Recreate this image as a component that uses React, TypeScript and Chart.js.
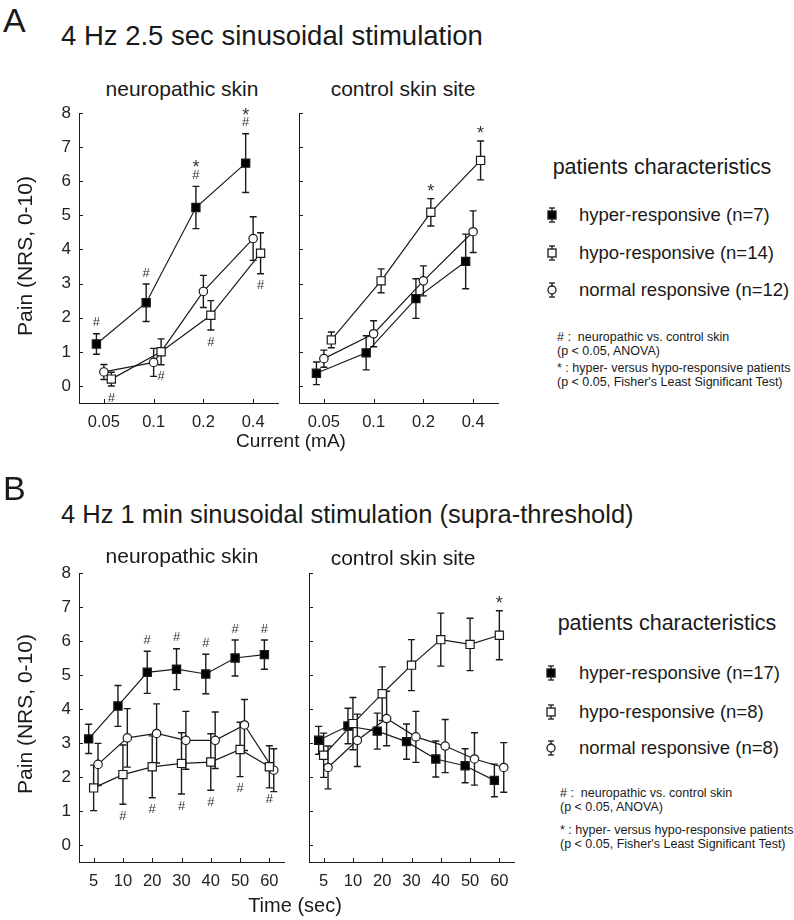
import React, { useEffect, useRef } from 'react';
import { Chart, registerables } from 'chart.js';
Chart.register(...registerables);

const FONT = 'Liberation Sans, Arial, Helvetica, sans-serif';
const INK = '#1a1a1a';

// ---------- categories / ticks ----------
const currentLabels = ['0.05', '0.1', '0.2', '0.4'];
const timeLabels = ['5', '10', '20', '30', '40', '50', '60'];
const yTicks = [0, 1, 2, 3, 4, 5, 6, 7, 8];

// ---------- A: 4 Hz 2.5 sec, neuropathic skin ----------
const aNeuroHyper = [1.23, 2.44, 5.23, 6.53];
const aNeuroHyperErr = [0.3, 0.55, 0.62, 0.86];
const aNeuroHypo = [0.2, 1.0, 2.07, 3.89];
const aNeuroHypoErr = [0.2, 0.38, 0.43, 0.6];
const aNeuroNormal = [0.41, 0.69, 2.77, 4.32];
const aNeuroNormalErr = [0.22, 0.41, 0.47, 0.64];
const aNeuroHyperSig = ['#', '#', '#*', '#*'];
const aNeuroHypoSig = ['#', '#', '#', '#'];

// ---------- A: control skin site ----------
const aCtrlHyper = [0.37, 0.97, 2.56, 3.65];
const aCtrlHyperErr = [0.33, 0.5, 0.58, 0.8];
const aCtrlHypo = [1.35, 3.08, 5.09, 6.61];
const aCtrlHypoErr = [0.23, 0.35, 0.4, 0.57];
const aCtrlNormal = [0.8, 1.53, 3.08, 4.52];
const aCtrlNormalErr = [0.25, 0.38, 0.44, 0.61];
const aCtrlHypoSig = ['', '', '*', '*'];

// ---------- B: 4 Hz 1 min, neuropathic skin ----------
const bNeuroHyper = [3.12, 4.09, 5.08, 5.17, 5.03, 5.5, 5.6];
const bNeuroHyperErr = [0.43, 0.6, 0.62, 0.6, 0.58, 0.53, 0.43];
const bNeuroHypo = [1.68, 2.07, 2.3, 2.4, 2.44, 2.81, 2.3];
const bNeuroHypoErr = [0.67, 0.87, 0.91, 0.9, 0.83, 0.8, 0.62];
const bNeuroNormal = [2.37, 3.15, 3.28, 3.08, 3.08, 3.53, 2.2];
const bNeuroNormalErr = [0.62, 0.86, 0.87, 0.85, 0.83, 0.75, 0.63];
const bNeuroHyperSig = ['', '', '#', '#', '#', '#', '#'];
const bNeuroHypoSig = ['', '#', '#', '#', '#', '#', '#'];

// ---------- B: control skin site ----------
const bCtrlHyper = [3.08, 3.5, 3.35, 3.04, 2.53, 2.33, 1.9];
const bCtrlHyperErr = [0.41, 0.52, 0.53, 0.52, 0.53, 0.5, 0.48];
const bCtrlHypo = [2.64, 3.57, 4.45, 5.29, 6.04, 5.9, 6.17];
const bCtrlHypoErr = [0.65, 0.77, 0.79, 0.75, 0.78, 0.77, 0.72];
const bCtrlNormal = [2.28, 3.08, 3.72, 3.18, 2.91, 2.53, 2.28];
const bCtrlNormalErr = [0.63, 0.77, 0.8, 0.75, 0.78, 0.77, 0.73];
const bCtrlHypoSig = ['', '', '', '', '', '', '*'];

// ---------- legend texts ----------
const legendATexts = ['hyper-responsive (n=7)', 'hypo-responsive (n=14)', 'normal responsive (n=12)'];
const legendBTexts = ['hyper-responsive (n=17)', 'hypo-responsive (n=8)', 'normal responsive (n=8)'];

type Series = { values: number[]; errors: number[]; kind: 'hyper' | 'hypo' | 'normal'; above?: string[]; below?: string[] };

const errorBarPlugin = {
  id: 'errorBars',
  beforeDatasetsDraw(chart: any) {
    const { ctx } = chart;
    const xs = chart.scales.x, ys = chart.scales.y;
    ctx.save();
    ctx.strokeStyle = INK;
    ctx.lineWidth = 1.4;
    chart.data.datasets.forEach((ds: any) => {
      ds.data.forEach((p: any, i: number) => {
        const e = ds.errors[i];
        const px = xs.getPixelForValue(p.x);
        const yt = ys.getPixelForValue(p.y + e);
        const yb = ys.getPixelForValue(p.y - e);
        ctx.beginPath();
        ctx.moveTo(px, yt);
        ctx.lineTo(px, yb);
        ctx.moveTo(px - 3.5, yt);
        ctx.lineTo(px + 3.5, yt);
        ctx.moveTo(px - 3.5, yb);
        ctx.lineTo(px + 3.5, yb);
        ctx.stroke();
      });
    });
    ctx.restore();
  },
  afterDatasetsDraw(chart: any) {
    const { ctx } = chart;
    const xs = chart.scales.x, ys = chart.scales.y;
    ctx.save();
    ctx.fillStyle = '#333';
    ctx.textAlign = 'center';
    ctx.textBaseline = 'middle';
    const drawSym = (c: string, px: number, py: number) => {
      if (c === '*') {
        ctx.font = `18px ${FONT}`;
        ctx.fillText('*', px, py + 4);
      } else {
        ctx.font = `13px ${FONT}`;
        ctx.fillText('#', px, py);
      }
    };
    chart.data.datasets.forEach((ds: any) => {
      ds.data.forEach((p: any, i: number) => {
        const e = ds.errors[i];
        const px = xs.getPixelForValue(p.x);
        const yt = ys.getPixelForValue(p.y + e);
        const yb = ys.getPixelForValue(p.y - e);
        const ab: string = ds.above ? ds.above[i] || '' : '';
        for (let k = 0; k < ab.length; k++) drawSym(ab[k], px, yt - 11 - k * 11);
        const be: string = ds.below ? ds.below[i] || '' : '';
        for (let k = 0; k < be.length; k++) drawSym(be[k], px, yb + 12 + k * 11);
      });
    });
    ctx.restore();
  },
  afterDraw(chart: any) {
    const { ctx, chartArea } = chart;
    const xs = chart.scales.x, ys = chart.scales.y;
    ctx.save();
    ctx.strokeStyle = INK;
    ctx.lineWidth = 1;
    ctx.beginPath();
    yTicks.forEach((v) => {
      const py = Math.round(ys.getPixelForValue(v)) + 0.5;
      ctx.moveTo(chartArea.left, py);
      ctx.lineTo(chartArea.left + 4, py);
    });
    xs.ticks.forEach((t: any) => {
      const px = Math.round(xs.getPixelForValue(t.value)) + 0.5;
      ctx.moveTo(px, chartArea.bottom);
      ctx.lineTo(px, chartArea.bottom - 4);
    });
    ctx.stroke();
    ctx.restore();
  },
};

type PanelProps = {
  left: number; top: number; width: number; height: number;
  area: { left: number; right: number; top: number; bottom: number };
  labels: string[];
  series: Series[];
  offsets: { hyper: number; hypo: number; normal: number };
  showYLabels: boolean;
};

function Panel(props: PanelProps) {
  const ref = useRef<HTMLCanvasElement>(null);
  useEffect(() => {
    const { left, top, width, height, area, labels, series, offsets, showYLabels } = props;
    const padTop = area.top - top;
    const padRight = left + width - area.right;
    const yW = area.left - left;
    const xH = top + height - area.bottom;
    const order = { hypo: 0, normal: 1, hyper: 2 } as any;
    const datasets = series.map((s) => ({
      data: s.values.map((v, i) => ({ x: i + (offsets as any)[s.kind], y: v })),
      errors: s.errors,
      above: s.above,
      below: s.below,
      order: order[s.kind],
      borderColor: INK,
      borderWidth: 1.2,
      tension: 0,
      fill: false,
      pointStyle: s.kind === 'normal' ? 'circle' : 'rect',
      pointRadius: s.kind === 'normal' ? 4.2 : 5.8,
      pointBorderWidth: 1.2,
      pointBorderColor: INK,
      pointBackgroundColor: s.kind === 'hyper' ? '#000' : '#fff',
      pointHoverRadius: s.kind === 'normal' ? 4.2 : 5.8,
    }));
    const chart = new Chart(ref.current as HTMLCanvasElement, {
      type: 'line',
      data: { datasets } as any,
      options: {
        responsive: false,
        maintainAspectRatio: false,
        animation: false,
        events: [],
        layout: { padding: { top: padTop, right: padRight, left: 0, bottom: 0 } },
        plugins: { legend: { display: false }, tooltip: { enabled: false } },
        scales: {
          x: {
            type: 'linear',
            min: -0.5,
            max: labels.length - 0.5,
            afterBuildTicks: (s: any) => { s.ticks = labels.map((_, i) => ({ value: i })); },
            ticks: {
              autoSkip: false,
              maxRotation: 0,
              padding: 10,
              color: '#222',
              font: { family: FONT, size: 16.5 },
              callback: (v: any) => labels[v] ?? '',
            },
            grid: { display: true, drawOnChartArea: false, drawTicks: false },
            border: { display: true, color: INK, width: 1 },
            afterFit: (s: any) => { s.height = xH; s.paddingLeft = 0; s.paddingRight = 0; },
          },
          y: {
            type: 'linear',
            min: -0.5,
            max: 8,
            afterBuildTicks: (s: any) => { s.ticks = yTicks.map((v) => ({ value: v })); },
            ticks: {
              display: showYLabels,
              padding: 8,
              color: '#222',
              font: { family: FONT, size: 17 },
            },
            grid: { display: true, drawOnChartArea: false, drawTicks: false },
            border: { display: true, color: INK, width: 1 },
            afterFit: (s: any) => { s.width = yW; s.paddingTop = 0; s.paddingBottom = 0; },
          },
        },
      } as any,
      plugins: [errorBarPlugin],
    });
    return () => chart.destroy();
  }, []);
  return (
    <canvas
      ref={ref}
      width={props.width}
      height={props.height}
      style={{ position: 'absolute', left: props.left, top: props.top, width: props.width, height: props.height }}
    />
  );
}

function T(p: { x: number; y: number; size: number; text: string; anchor?: 'left' | 'center'; color?: string }) {
  return (
    <div
      style={{
        position: 'absolute',
        left: p.x,
        top: p.y,
        transform: `translate(${p.anchor === 'center' ? '-50%' : '0'}, -50%)`,
        fontFamily: FONT,
        fontSize: p.size,
        lineHeight: 1,
        whiteSpace: 'pre',
        color: p.color || '#1a1a1a',
      }}
    >
      {p.text}
    </div>
  );
}

function Marker(p: { kind: 'hyper' | 'hypo' | 'normal'; x: number; y: number }) {
  return (
    <svg width={14} height={18} style={{ position: 'absolute', left: p.x - 7, top: p.y - 9 }}>
      <g stroke={INK} strokeWidth={1.3}>
        <line x1={7} y1={2} x2={7} y2={16} />
        <line x1={4} y1={2} x2={10} y2={2} />
        <line x1={4} y1={16} x2={10} y2={16} />
        {p.kind === 'normal' ? (
          <circle cx={7} cy={9} r={4} fill="#fff" />
        ) : (
          <rect x={3} y={5} width={8} height={8} fill={p.kind === 'hyper' ? '#000' : '#fff'} />
        )}
      </g>
    </svg>
  );
}

function Legend(p: { texts: string[]; titleX: number; titleY: number; rows: number[]; markerX: number; textX: number; noteX: number; notes: number[] }) {
  const kinds: ('hyper' | 'hypo' | 'normal')[] = ['hyper', 'hypo', 'normal'];
  return (
    <>
      <T x={p.titleX} y={p.titleY} size={21.5} text="patients characteristics" anchor="center" />
      {kinds.map((k, i) => (
        <React.Fragment key={k}>
          <Marker kind={k} x={p.markerX} y={p.rows[i]} />
          <T x={p.textX} y={p.rows[i]} size={18.5} text={p.texts[i]} />
        </React.Fragment>
      ))}
      <T x={p.noteX} y={p.notes[0]} size={12.5} text={'# :  neuropathic vs. control skin'} />
      <T x={p.noteX} y={p.notes[1]} size={12.5} text={'(p < 0.05, ANOVA)'} />
      <T x={p.noteX} y={p.notes[2]} size={12.5} text={'* : hyper- versus hypo-responsive patients'} />
      <T x={p.noteX} y={p.notes[3]} size={12.5} text={"(p < 0.05, Fisher's Least Significant Test)"} />
    </>
  );
}

function YLabel(p: { x: number; y: number }) {
  return (
    <div
      style={{
        position: 'absolute',
        left: p.x,
        top: p.y,
        transform: 'translate(-50%, -50%) rotate(-90deg)',
        fontFamily: FONT,
        fontSize: 21,
        lineHeight: 1,
        whiteSpace: 'nowrap',
        color: '#1a1a1a',
      }}
    >
      Pain (NRS, 0-10)
    </div>
  );
}

export default function App() {
  const offA = { hyper: -0.15, normal: 0, hypo: 0.15 };
  const offB = { hyper: -0.17, hypo: 0, normal: 0.15 };
  return (
    <div style={{ position: 'absolute', left: 0, top: 0, width: 794, height: 920, background: '#fff', overflow: 'hidden' }}>
      <Panel
        left={0} top={100} width={290} height={340}
        area={{ left: 79, right: 278, top: 113, bottom: 403 }}
        labels={currentLabels}
        offsets={offA}
        showYLabels={true}
        series={[
          { values: aNeuroHyper, errors: aNeuroHyperErr, kind: 'hyper', above: aNeuroHyperSig },
          { values: aNeuroHypo, errors: aNeuroHypoErr, kind: 'hypo', below: aNeuroHypoSig },
          { values: aNeuroNormal, errors: aNeuroNormalErr, kind: 'normal' },
        ]}
      />
      <Panel
        left={290} top={100} width={220} height={340}
        area={{ left: 299, right: 498, top: 113, bottom: 403 }}
        labels={currentLabels}
        offsets={offA}
        showYLabels={false}
        series={[
          { values: aCtrlHyper, errors: aCtrlHyperErr, kind: 'hyper' },
          { values: aCtrlHypo, errors: aCtrlHypoErr, kind: 'hypo', above: aCtrlHypoSig },
          { values: aCtrlNormal, errors: aCtrlNormalErr, kind: 'normal' },
        ]}
      />
      <Panel
        left={0} top={560} width={295} height={340}
        area={{ left: 79, right: 284, top: 573, bottom: 862 }}
        labels={timeLabels}
        offsets={offB}
        showYLabels={true}
        series={[
          { values: bNeuroHyper, errors: bNeuroHyperErr, kind: 'hyper', above: bNeuroHyperSig },
          { values: bNeuroHypo, errors: bNeuroHypoErr, kind: 'hypo', below: bNeuroHypoSig },
          { values: bNeuroNormal, errors: bNeuroNormalErr, kind: 'normal' },
        ]}
      />
      <Panel
        left={295} top={560} width={230} height={340}
        area={{ left: 309, right: 514, top: 573, bottom: 862 }}
        labels={timeLabels}
        offsets={offB}
        showYLabels={false}
        series={[
          { values: bCtrlHyper, errors: bCtrlHyperErr, kind: 'hyper' },
          { values: bCtrlHypo, errors: bCtrlHypoErr, kind: 'hypo', above: bCtrlHypoSig },
          { values: bCtrlNormal, errors: bCtrlNormalErr, kind: 'normal' },
        ]}
      />

      <T x={3} y={20} size={34} text="A" />
      <T x={61} y={36} size={27.5} text="4 Hz 2.5 sec sinusoidal stimulation" />
      <T x={182} y={88} size={21} text="neuropathic skin" anchor="center" />
      <T x={403} y={88} size={21} text="control skin site" anchor="center" />
      <YLabel x={24} y={256} />
      <T x={291} y={440} size={19} text="Current (mA)" anchor="center" />
      <Legend texts={legendATexts} titleX={662} titleY={168} rows={[215, 253, 290]} markerX={552} textX={579} noteX={557} notes={[337, 351, 368, 382]} />

      <T x={3} y={488} size={34} text="B" />
      <T x={61} y={515} size={25.5} text="4 Hz 1 min sinusoidal stimulation (supra-threshold)" />
      <T x={182} y={555} size={21} text="neuropathic skin" anchor="center" />
      <T x={403} y={557} size={21} text="control skin site" anchor="center" />
      <YLabel x={24} y={714} />
      <T x={295} y={905} size={20} text="Time (sec)" anchor="center" />
      <Legend texts={legendBTexts} titleX={667} titleY={624} rows={[673, 712, 748]} markerX={551} textX={579} noteX={560} notes={[793, 807, 830, 844]} />
    </div>
  );
}
